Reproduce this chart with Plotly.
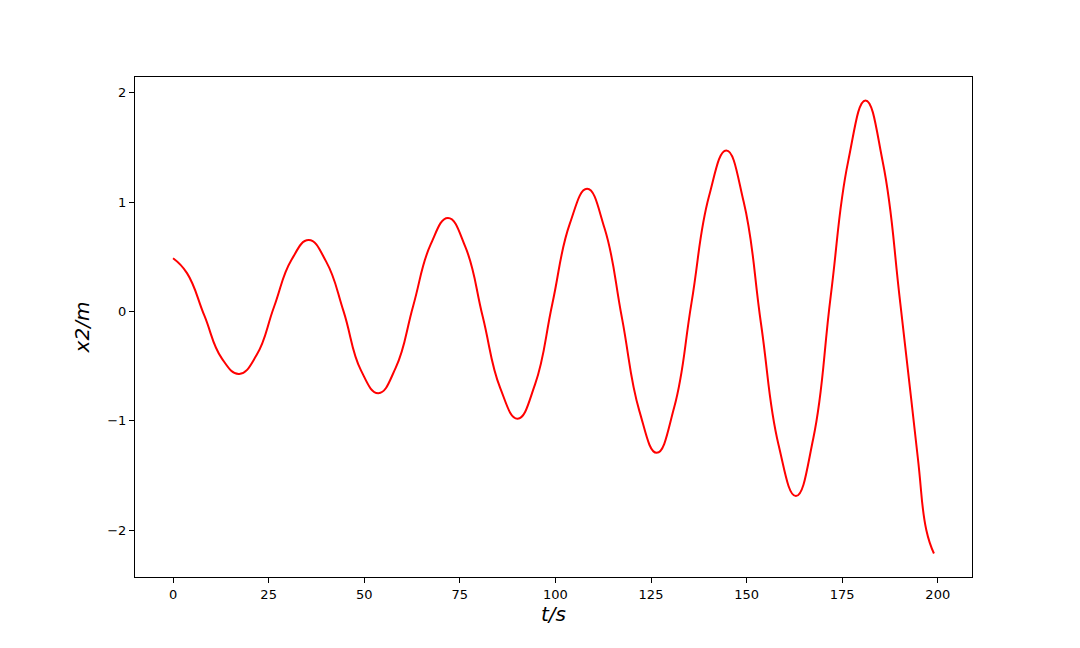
import plotly.graph_objects as go

t_values = [0, 3.65, 8.2, 12.75, 17.3, 21.85, 26.4, 30.95, 35.5, 40.05, 44.6,
            49.15, 53.7, 58.25, 62.8, 67.35, 71.9, 76.45, 81.0, 85.55, 90.1,
            94.65, 99.2, 103.75, 108.3, 112.85, 117.4, 121.95, 126.5, 131.05,
            135.6, 140.15, 144.7, 149.25, 153.8, 158.35, 162.9, 167.45, 172.0,
            176.55, 181.1, 185.65, 190.2, 194.75, 197.0, 199.0]
x2_values = [0.486, 0.35, -0.04, -0.43, -0.572, -0.40, 0.04, 0.47, 0.652, 0.455,
             0.0, -0.54, -0.748, -0.515, 0.05, 0.61, 0.854, 0.59, -0.05, -0.70,
             -0.982, -0.67, 0.07, 0.80, 1.121, 0.76, -0.06, -0.91, -1.294, -0.88,
             0.08, 1.05, 1.472, 1.00, -0.12, -1.22, -1.69, -1.16, 0.14, 1.37,
             1.93, 1.36, 0.074, -1.33, -2.0, -2.215]

x_ticks = [0, 25, 50, 75, 100, 125, 150, 175, 200]
y_ticks = [-2, -1, 0, 1, 2]

fig = go.Figure()
fig.add_trace(go.Scatter(
    x=t_values, y=x2_values, mode="lines",
    line=dict(color="#ff0000", width=2, shape="spline", smoothing=1.3),
    showlegend=False,
))

axis_common = dict(
    showline=True, linecolor="black", linewidth=1, mirror=True,
    ticks="outside", ticklen=5, tickwidth=1, tickcolor="black",
    showgrid=False, zeroline=False, automargin=False,
    tickfont=dict(family="DejaVu Sans", size=13, color="black"),
)

# the page body adds an 8px offset, so margins are reduced accordingly
fig.update_layout(
    width=1080, height=648,
    paper_bgcolor="white", plot_bgcolor="white",
    margin=dict(l=127, r=116, t=69, b=79),
    xaxis=dict(range=[-9.95, 208.95], tickvals=x_ticks,
               title=dict(text="<i>t/s</i>", font=dict(family="DejaVu Sans", size=20, color="black"), standoff=4),
               **axis_common),
    yaxis=dict(range=[-2.43, 2.144], tickvals=y_ticks,
               title=dict(text="<i>x2/m</i>", font=dict(family="DejaVu Sans", size=20, color="black"), standoff=12),
               **axis_common),
)

fig.write_html("out.html")
